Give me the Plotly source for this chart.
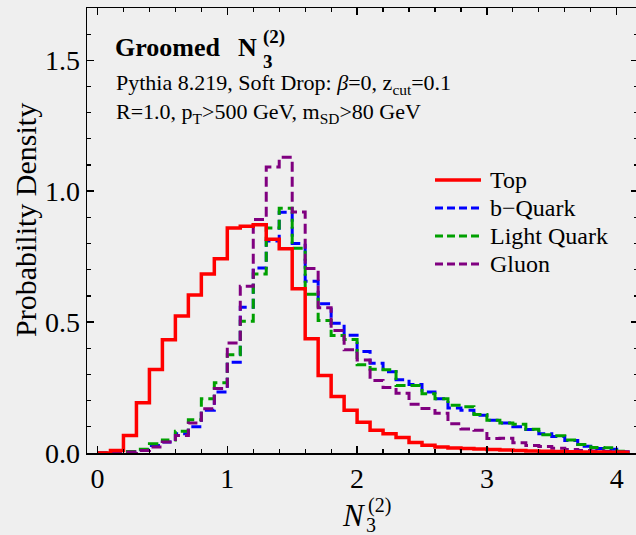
import plotly.graph_objects as go

# ---- data (bin width 0.1, left edges) ----
bin_lo = [0.0, 0.1, 0.2, 0.3, 0.4, 0.5, 0.6, 0.7, 0.8, 0.9,
          1.0, 1.1, 1.2, 1.3, 1.4, 1.5, 1.6, 1.7, 1.8, 1.9,
          2.0, 2.1, 2.2, 2.3, 2.4, 2.5, 2.6, 2.7, 2.8, 2.9,
          3.0, 3.1, 3.2, 3.3, 3.4, 3.5, 3.6, 3.7, 3.8, 3.9, 4.0]
bin_width = 0.1

top = [0.0, 0.01, 0.067, 0.192, 0.319, 0.433, 0.523, 0.604, 0.684, 0.742,
       0.86, 0.866, 0.872, 0.817, 0.78, 0.627, 0.436, 0.296, 0.216, 0.163,
       0.117, 0.087, 0.074, 0.059, 0.04, 0.03, 0.023, 0.019, 0.017, 0.015,
       0.013, 0.011, 0.01, 0.008, 0.007, 0.006, 0.005, 0.004, 0.004, 0.003, 0.003]

bquark = [0.0, 0.002, 0.005, 0.012, 0.029, 0.042, 0.074, 0.1, 0.163, 0.233,
          0.347, 0.557, 0.707, 0.81, 0.92, 0.8, 0.656, 0.57, 0.496, 0.45,
          0.388, 0.343, 0.31, 0.28, 0.262, 0.233, 0.207, 0.172, 0.163, 0.144,
          0.125, 0.115, 0.1, 0.09, 0.074, 0.063, 0.048, 0.026, 0.017, 0.014, 0.005]

lightq = [0.0, 0.002, 0.006, 0.014, 0.035, 0.05, 0.083, 0.127, 0.207, 0.268,
          0.375, 0.503, 0.684, 0.86, 0.935, 0.782, 0.606, 0.506, 0.449, 0.434,
          0.337, 0.32, 0.318, 0.258, 0.258, 0.226, 0.207, 0.182, 0.177, 0.147,
          0.125, 0.115, 0.11, 0.091, 0.07, 0.066, 0.05, 0.032, 0.021, 0.02, 0.007]

gluon = [0.0, 0.002, 0.004, 0.01, 0.023, 0.042, 0.067, 0.115, 0.169, 0.246,
         0.42, 0.637, 0.892, 1.093, 1.13, 0.921, 0.705, 0.555, 0.468, 0.394,
         0.355, 0.277, 0.25, 0.228, 0.186, 0.17, 0.152, 0.112, 0.092, 0.087,
         0.055, 0.056, 0.039, 0.029, 0.025, 0.018, 0.013, 0.01, 0.008, 0.006, 0.004]

series = [
    ("b\u2212Quark", bquark, "#0000ff", "10px,5px", 3),
    ("Light Quark", lightq, "#00a000", "10px,5px", 3),
    ("Gluon", gluon, "#800080", "10px,5px", 3),
    ("Top", top, "#ff0000", "solid", 3.5),
]
legend_order = ["Top", "b\u2212Quark", "Light Quark", "Gluon"]

FONT = "Liberation Serif"
W, H = 638, 535          # frame's right edge sits just outside the 636 px window
ML, MR, MT, MB = 87, 0, 8, 82
PW, PH = W - ML - MR, H - MT - MB

def px(x):
    return (x - ML) / PW

def py(y):
    return (H - MB - y) / PH

fig = go.Figure()
x_edges = bin_lo + [bin_lo[-1] + bin_width]
for name, vals, color, dash, lw in series:
    fig.add_trace(go.Scatter(
        x=x_edges, y=vals + [vals[-1]], mode="lines", line_shape="hv",
        line=dict(color=color, width=lw, dash=dash), name=name,
        showlegend=False, hoverinfo="skip"))

ann = []
shapes = []
# legend (manual)
style = {s[0]: s for s in series}
for i, name in enumerate(legend_order):
    _, _, color, dash, lw = style[name]
    yy = 180 + 28 * i
    shapes.append(dict(type="line", xref="paper", yref="paper",
                       x0=px(435), x1=px(481), y0=py(yy), y1=py(yy),
                       line=dict(color=color, width=lw,
                                 dash="8px,4px" if dash != "solid" else "solid")))
    ann.append(dict(text=name, x=px(488), y=py(yy), xanchor="left", yanchor="middle",
                    font=dict(family=FONT, size=24, color="black")))

# header texts
ann += [
    dict(text="<b>Groomed</b>", x=px(113), y=py(47), xanchor="left", yanchor="middle",
         font=dict(family=FONT, size=26, color="black")),
    dict(text="<b>N</b>", x=px(236), y=py(47), xanchor="left", yanchor="middle",
         font=dict(family=FONT, size=26, color="black")),
    dict(text="<b>(2)</b>", x=px(261), y=py(37), xanchor="left", yanchor="middle",
         font=dict(family=FONT, size=19, color="black")),
    dict(text="<b>3</b>", x=px(261), y=py(62), xanchor="left", yanchor="middle",
         font=dict(family=FONT, size=19, color="black")),
    dict(text="Pythia 8.219, Soft Drop: <i>\u03b2</i>=0, z<sub>cut</sub>=0.1",
         x=px(114), y=py(84), xanchor="left", yanchor="middle",
         font=dict(family=FONT, size=22, color="black")),
    dict(text="R=1.0, p<sub>T</sub>>500 GeV, m<sub>SD</sub>>80 GeV",
         x=px(114), y=py(113), xanchor="left", yanchor="middle",
         font=dict(family=FONT, size=22, color="black")),
    # axis titles
    dict(text="Probability Density", x=px(25), y=py(220), textangle=-90,
         xanchor="center", yanchor="middle",
         font=dict(family=FONT, size=30, color="black")),
    dict(text="<i>N</i>", x=px(354), y=py(515), xanchor="center", yanchor="middle",
         font=dict(family=FONT, size=31, color="black")),
    dict(text="(2)", x=px(366), y=py(506), xanchor="left", yanchor="middle",
         font=dict(family=FONT, size=20, color="black")),
    dict(text="3", x=px(364), y=py(525), xanchor="left", yanchor="middle",
         font=dict(family=FONT, size=20, color="black")),
]
for a in ann:
    a.setdefault("xref", "paper")
    a.setdefault("yref", "paper")
    a["showarrow"] = False

fig.update_layout(
    width=W, height=H,
    margin=dict(l=ML, r=MR, t=MT, b=MB, pad=0, autoexpand=False),
    paper_bgcolor="#efefef", plot_bgcolor="#efefef",
    annotations=ann, shapes=shapes, showlegend=False, hovermode=False,
    font=dict(family=FONT, size=28, color="black"),
)
fig.update_xaxes(
    range=[(ML - 97.5) / 129.8, (W - MR - 97.5) / 129.8],
    tick0=0, dtick=1, ticks="inside", ticklen=7, tickwidth=1.5, tickcolor="black",
    minor=dict(dtick=0.2, tick0=0, ticks="inside", ticklen=4, tickwidth=1.2, tickcolor="black"),
    showline=True, linecolor="black", linewidth=1.5, mirror="allticks",
    showgrid=False, zeroline=False, automargin=False, showspikes=False,
    tickfont=dict(family=FONT, size=28, color="black"),
)
fig.update_yaxes(
    range=[0, 1.7],
    tick0=0, dtick=0.5, tickformat=".1f", ticks="inside", ticklen=7, tickwidth=1.5,
    tickcolor="black",
    minor=dict(dtick=0.1, tick0=0, ticks="inside", ticklen=4, tickwidth=1.2, tickcolor="black"),
    showline=True, linecolor="black", linewidth=1.5, mirror="allticks",
    showgrid=False, zeroline=False, automargin=False, showspikes=False,
    tickfont=dict(family=FONT, size=28, color="black"),
)

fig.write_html(
    "out.html",
    config={"staticPlot": True, "displayModeBar": False},
    post_script="document.body.style.margin='0';document.body.style.overflow='hidden';"
                "document.documentElement.style.overflow='hidden';"
                "document.body.style.background='#efefef';",
)
